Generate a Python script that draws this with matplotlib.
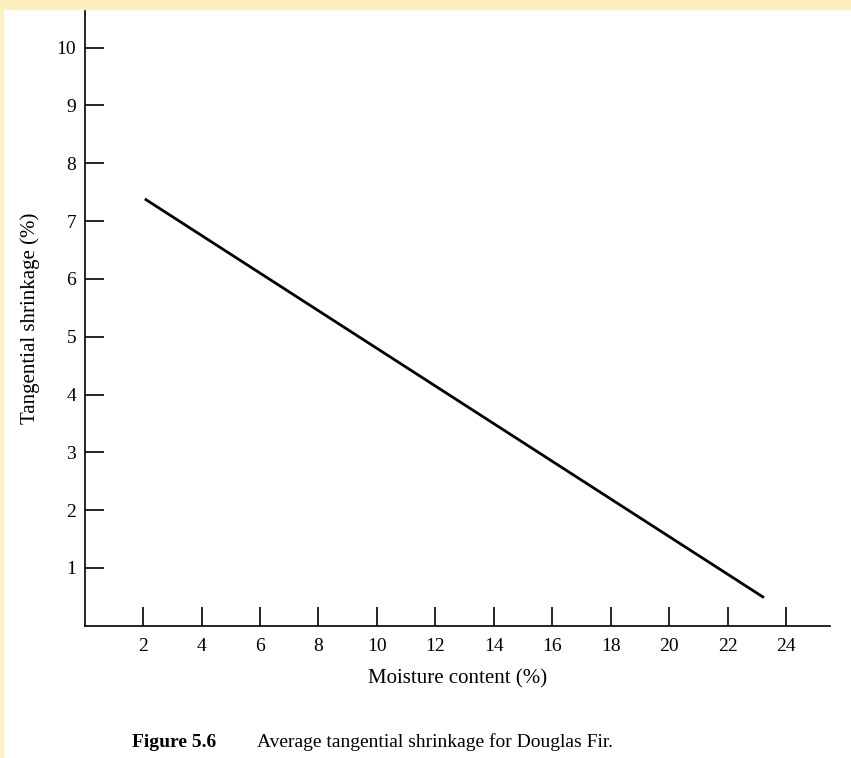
import matplotlib.pyplot as plt
from matplotlib.patches import Rectangle

# line endpoints
moisture = [2.1, 23.2]
shrinkage = [7.37, 0.5]
x_ticks = [2, 4, 6, 8, 10, 12, 14, 16, 18, 20, 22, 24]
y_ticks = [1, 2, 3, 4, 5, 6, 7, 8, 9, 10]

plt.rcParams["font.family"] = "Liberation Serif"

fig = plt.figure(figsize=(8.51, 7.58), dpi=100)
# yellowish scan border
fig.patches.append(Rectangle((0, 0.988), 1, 0.012, transform=fig.transFigure,
                             color="#fdf0c0", zorder=0))
fig.patches.append(Rectangle((0, 0), 0.004, 1, transform=fig.transFigure,
                             color="#fdf0c0", zorder=0))

ax = fig.add_axes([0.0994, 0.1744, 0.876, 0.8124])
ax.plot(moisture, shrinkage, color="black", linewidth=2)
ax.set_xlim(0, 25.5)
ax.set_ylim(0, 10.65)
ax.set_xticks(x_ticks)
ax.set_yticks(y_ticks)
ax.tick_params(direction="in", length=14, width=1.2, labelsize=14)
ax.tick_params(axis="y", pad=6)
ax.tick_params(axis="x", pad=9)
for s in ["top", "right"]:
    ax.spines[s].set_visible(False)
for s in ["left", "bottom"]:
    ax.spines[s].set_linewidth(1.2)
ax.set_xlabel("Moisture content (%)", fontsize=15, labelpad=10)
ax.set_ylabel("Tangential shrinkage (%)", fontsize=15, labelpad=12)

fig.text(0.155, 0.014, "Figure 5.6", fontsize=14, fontweight="bold")
fig.text(0.302, 0.014, "Average tangential shrinkage for Douglas Fir.", fontsize=14)

fig.savefig("out.png", dpi=100)
